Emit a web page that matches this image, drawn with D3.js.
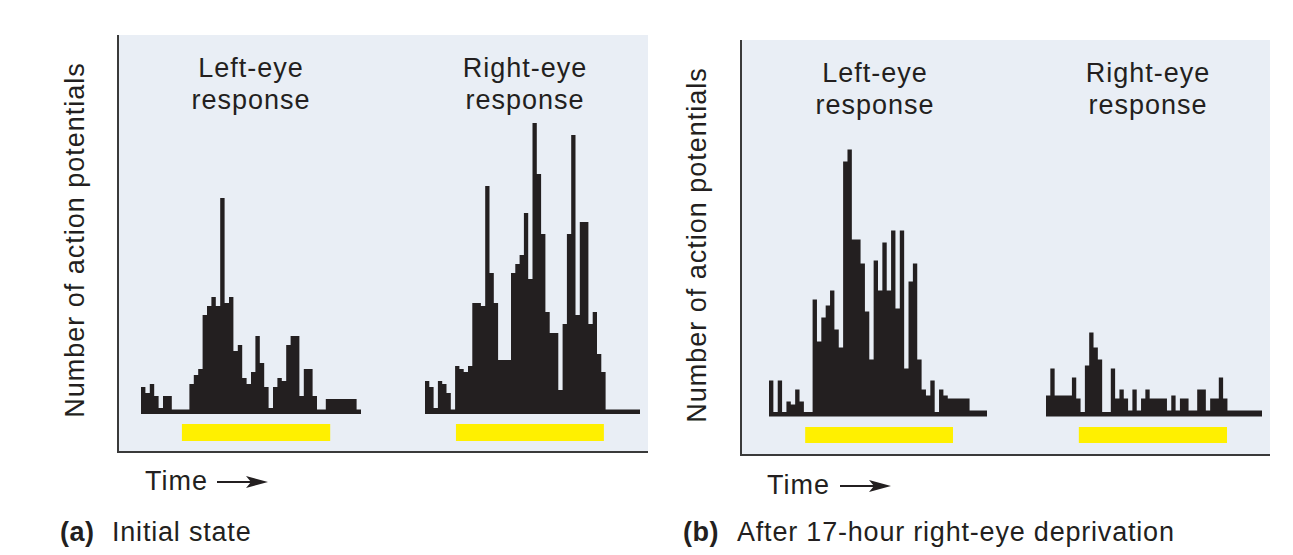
<!DOCTYPE html>
<html><head><meta charset="utf-8">
<script src="https://cdn.jsdelivr.net/npm/d3@7"></script>
<style>body{margin:0;background:#fff}</style>
</head><body><svg id="c" width="1293" height="555"></svg>
<script>
// ---------- data ----------
const responseNames = ["Left-eye", "Right-eye"];
const binCount = 50;
// Action potentials per time bin (arbitrary counts)
const leftInitial  = [9,7,10,6,2,6,6,1.5,1.5,1.5, 1.5,10,13,15,33,36,39,36,72,37, 39,21,23,12,10,14,26,17,9,2, 9,12,11,23,26,26,6,15,15,6, 1.5,1.5,5,5,5,5,5,5,5,1.5];
const rightInitial = [11,9,2,11,10,7,1.5,16,15,14, 16,37,37,36,76,47,37,18,18,18, 47,50,53,67,45,97,80,60,34,27, 27,8,30,60,93,33,64,64,30,34, 20,14,1.5,1.5,1.5,1.5,1.5,1.5,1.5,1.5];
const leftDeprived  = [12,1.5,12,1.5,5,4,9,5,1.5,1.5, 39,25,33,37,42,29,23,85,89,59, 59,51,35,19,52,42,58,42,62,36, 62,16,45,51,19,9,7,12,1.5,9, 7,6,6,6,6,6,2,2,2,2];
const rightDeprived = [7,16,7,7,7,7,13,6,1.5,17, 28,23,19,1.5,1.5,16,6,9,6,2, 9,2,6,9,6,6,6,6,2,7, 2,6,6,2,2,9,9,2,6,6, 13,6,2,2,2,2,2,2,2,2];
// stimulus on/off, in bin units
const stimInitial  = [[9.3, 43.0], [7.2, 41.6]];
const stimDeprived = [[8.3, 42.2], [7.6, 41.9]];
const panelLetters = ["(a)", "(b)"];
const captions = ["Initial state", "After 17-hour right-eye deprivation"];
const yAxisTitle = "Number of action potentials";
const xAxisTitle = "Time";

// ---------- layout ----------
const panels = [
  {letter: panelLetters[0], caption: captions[0], series: [leftInitial, rightInitial], stim: stimInitial,
   frame: {x0: 118, x1: 648, y0: 35, y1: 452}, base: 414, hist: [[141, 361], [425, 640]],
   stimY: [424, 441], titleY: [77, 109], centers: [251, 525], ylab: {x: 84, y: 240},
   time: {x: 145, y: 490, ax0: 217, ax1: 268, ay: 482}, capY: 541, capX: [60, 112]},
  {letter: panelLetters[1], caption: captions[1], series: [leftDeprived, rightDeprived], stim: stimDeprived,
   frame: {x0: 741, x1: 1270, y0: 40, y1: 455}, base: 416.5, hist: [[769, 987], [1046, 1262]],
   stimY: [427, 443], titleY: [82, 114], centers: [875, 1148], ylab: {x: 706, y: 245},
   time: {x: 767, y: 494, ax0: 840, ax1: 891, ay: 486}, capY: 541, capX: [683, 737]}
];

const svg = d3.select("#c");
const FONT = "'Liberation Sans', Arial, Helvetica, sans-serif";
const INK = "#231f20";
const FS = 27, LS = 1;

panels.forEach(p => {
  const g = svg.append("g");
  const f = p.frame;
  g.append("rect").attr("x", f.x0).attr("y", f.y0).attr("width", f.x1 - f.x0).attr("height", f.y1 - f.y0)
    .attr("fill", "#e9eef5");
  g.append("line").attr("x1", f.x0).attr("x2", f.x0).attr("y1", f.y0).attr("y2", f.y1)
    .attr("stroke", "#3a3a3a").attr("stroke-width", 2);
  g.append("line").attr("x1", f.x0 - 1).attr("x2", f.x1).attr("y1", f.y1).attr("y2", f.y1)
    .attr("stroke", "#3a3a3a").attr("stroke-width", 2);

  const y = d3.scaleLinear().domain([0, 100]).range([p.base, p.base - 300]);

  p.series.forEach((vals, k) => {
    const x = d3.scaleLinear().domain([0, binCount]).range(p.hist[k]);
    const pts = vals.map((v, i) => ({t: i, v}));
    pts.push({t: binCount, v: vals[vals.length - 1]});
    const area = d3.area().x(d => x(d.t)).y0(p.base).y1(d => y(d.v)).curve(d3.curveStepAfter);
    g.append("path").attr("d", area(pts)).attr("fill", INK);

    const s = p.stim[k];
    g.append("rect").attr("x", x(s[0])).attr("width", x(s[1]) - x(s[0]))
      .attr("y", p.stimY[0]).attr("height", p.stimY[1] - p.stimY[0]).attr("fill", "#fff000");

    [responseNames[k], "response"].forEach((t, j) => {
      g.append("text").attr("x", p.centers[k]).attr("y", p.titleY[j]).attr("text-anchor", "middle")
        .attr("font-family", FONT).attr("font-size", FS).attr("letter-spacing", LS)
        .attr("fill", INK).text(t);
    });
  });

  g.append("text").attr("transform", `translate(${p.ylab.x},${p.ylab.y}) rotate(-90)`)
    .attr("text-anchor", "middle").attr("font-family", FONT).attr("font-size", FS)
    .attr("letter-spacing", LS).attr("fill", INK).text(yAxisTitle);

  const t = p.time;
  g.append("text").attr("x", t.x).attr("y", t.y).attr("font-family", FONT).attr("font-size", FS)
    .attr("letter-spacing", LS).attr("fill", INK).text(xAxisTitle);
  g.append("line").attr("x1", t.ax0).attr("x2", t.ax1 - 12).attr("y1", t.ay).attr("y2", t.ay)
    .attr("stroke", INK).attr("stroke-width", 2);
  g.append("path").attr("d", `M${t.ax1},${t.ay} L${t.ax1 - 22},${t.ay - 6} L${t.ax1 - 17},${t.ay} L${t.ax1 - 22},${t.ay + 6} Z`)
    .attr("fill", INK);

  g.append("text").attr("x", p.capX[0]).attr("y", p.capY).attr("font-family", FONT).attr("font-size", FS)
    .attr("font-weight", "bold").attr("letter-spacing", 0.5).attr("fill", INK).text(p.letter);
  g.append("text").attr("x", p.capX[1]).attr("y", p.capY).attr("font-family", FONT).attr("font-size", FS)
    .attr("letter-spacing", 0.8).attr("fill", INK).text(p.caption);
});
</script></body></html>
